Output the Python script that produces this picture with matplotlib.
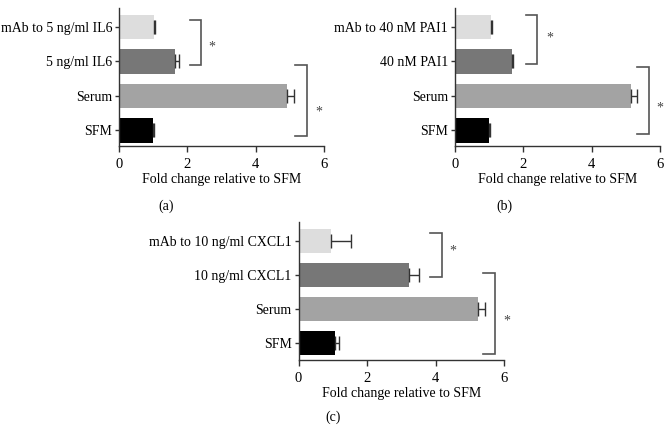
import matplotlib
matplotlib.use("Agg")
import matplotlib.pyplot as plt

plt.rcParams['font.family'] = ['Liberation Serif', 'DejaVu Serif']

# bottom to top: SFM, Serum, treatment, mAb
labels_a = ["SFM", "Serum", "5 ng/ml IL6", "mAb to 5 ng/ml IL6"]
values_a = [0.99, 4.92, 1.64, 1.03]
errors_a = [0.02, 0.20, 0.11, 0.02]

labels_b = ["SFM", "Serum", "40 nM PAI1", "mAb to 40 nM PAI1"]
values_b = [1.00, 5.15, 1.66, 1.05]
errors_b = [0.03, 0.17, 0.05, 0.02]

labels_c = ["SFM", "Serum", "10 ng/ml CXCL1", "mAb to 10 ng/ml CXCL1"]
values_c = [1.07, 5.25, 3.24, 0.95]
errors_c = [0.12, 0.20, 0.28, 0.57]

bar_colors = ["#000000", "#a3a3a3", "#777777", "#dddddd"]
xlabel = "Fold change relative to SFM"

# brackets: (x_left, x_right, y_top, y_bottom, star_x, star_y)
brackets_a = [(2.09, 2.41, 3.20, 1.90, 2.73, 2.42),
              (5.16, 5.50, 1.90, -0.16, 5.84, 0.54)]
brackets_b = [(2.08, 2.41, 3.35, 1.93, 2.78, 2.68),
              (5.34, 5.68, 1.84, -0.10, 6.00, 0.65)]
brackets_c = [(3.84, 4.18, 3.23, 1.94, 4.51, 2.70),
              (5.39, 5.74, 2.05, -0.32, 6.09, 0.65)]

W, H = 672, 443
fig = plt.figure(figsize=(W / 100, H / 100), dpi=100)


def make_axes(left_px, top_px, width_px, height_px):
    return fig.add_axes([left_px / W, 1 - (top_px + height_px) / H,
                         width_px / W, height_px / H])


def draw_panel(ax, labels, values, errors, brackets, ylim, tag, tag_x, tag_y):
    ypos = list(range(len(labels)))
    ax.barh(ypos, values, height=0.7, color=bar_colors, edgecolor="none")
    ax.errorbar(values, ypos, xerr=[[0] * len(errors), errors], fmt="none",
                ecolor="#333333", elinewidth=1.0, capsize=4.7, capthick=1.0)
    for x0, x1, yt, yb, sx, sy in brackets:
        ax.plot([x0, x1, x1, x0], [yt, yt, yb, yb], color="#555555",
                lw=1.2, clip_on=False, solid_joinstyle="miter")
        ax.text(sx, sy, "*", ha="center", va="center", fontsize=10,
                color="#444444", clip_on=False)
    ax.set_xlim(0, 6)
    ax.set_ylim(*ylim)
    ax.set_xticks([0, 2, 4, 6])
    ax.set_yticks(ypos)
    ax.set_yticklabels(labels)
    ax.tick_params(axis="y", labelsize=10, length=3, width=1, color="#333333",
                   pad=2)
    ax.tick_params(axis="x", labelsize=10.5, length=4, width=1, color="#333333",
                   pad=5)
    ax.spines["top"].set_visible(False)
    ax.spines["right"].set_visible(False)
    for s in ("left", "bottom"):
        ax.spines[s].set_linewidth(1)
        ax.spines[s].set_color("#333333")
    ax.set_xlabel(xlabel, fontsize=10, labelpad=1)
    fig.text(tag_x / W, 1 - tag_y / H, tag, ha="center", va="center", fontsize=10)


ax_a = make_axes(119, 8, 205, 138)
draw_panel(ax_a, labels_a, values_a, errors_a, brackets_a, (-0.45, 3.55),
           "(a)", 166, 206)

ax_b = make_axes(455, 8, 205, 138)
draw_panel(ax_b, labels_b, values_b, errors_b, brackets_b, (-0.45, 3.55),
           "(b)", 504, 206)

ax_c = make_axes(298.5, 222, 205.5, 138)
draw_panel(ax_c, labels_c, values_c, errors_c, brackets_c, (-0.5, 3.55),
           "(c)", 333, 417)

fig.savefig("out.png", dpi=100)
